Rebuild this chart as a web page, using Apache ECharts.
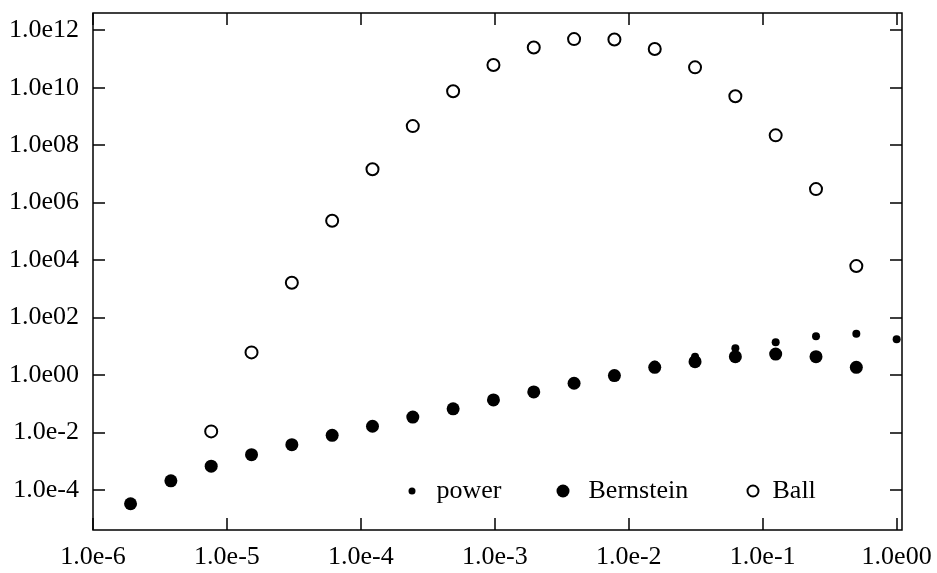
<!DOCTYPE html>
<html>
<head>
<meta charset="utf-8">
<script src="https://cdn.jsdelivr.net/npm/echarts@6/dist/echarts.min.js"></script>
<style>
  html, body { margin: 0; padding: 0; background: #fff; }
  #chart { width: 937px; height: 573px; }
</style>
</head>
<body>
<div id="chart"></div>
<script>
// x positions (2^-19 ... 2^0)
const xPower = [1.907e-6, 3.815e-6, 7.629e-6, 1.526e-5, 3.052e-5, 6.104e-5, 1.221e-4, 2.441e-4,
  4.883e-4, 9.766e-4, 1.953e-3, 3.906e-3, 7.813e-3, 1.563e-2, 3.125e-2, 6.25e-2, 0.125, 0.25, 0.5, 1];
const xBernstein = xPower.slice(0, 19);
const xBall = xPower.slice(2, 19);

const powerValues = [3.27e-5, 2.05e-4, 6.63e-4, 1.67e-3, 3.72e-3, 7.87e-3, 1.63e-2, 3.39e-2, 6.58e-2,
  0.135, 0.255, 0.512, 0.946, 2.3, 4.3, 8.4, 13.8, 22.3, 27.0, 17.6];
const bernsteinValues = [3.27e-5, 2.05e-4, 6.63e-4, 1.67e-3, 3.72e-3, 7.87e-3, 1.63e-2, 3.39e-2, 6.58e-2,
  0.135, 0.255, 0.512, 0.946, 1.83, 2.89, 4.31, 5.30, 4.31, 1.83];
const ballValues = [1.08e-2, 6.07, 1.62e3, 2.34e5, 1.45e7, 4.59e8, 7.5e9, 6.17e10, 2.51e11, 4.91e11,
  4.76e11, 2.21e11, 5.1e10, 5.04e9, 2.19e8, 2.94e6, 6.15e3];

// tick exponents and labels
const xTickExps = [-6, -5, -4, -3, -2, -1, 0];
const xTickLabels = ['1.0e-6', '1.0e-5', '1.0e-4', '1.0e-3', '1.0e-2', '1.0e-1', '1.0e00'];
const yTickExps = [-4, -2, 0, 2, 4, 6, 8, 10, 12];
const yTickLabels = ['1.0e-4', '1.0e-2', '1.0e00', '1.0e02', '1.0e04', '1.0e06', '1.0e08', '1.0e10', '1.0e12'];

const xMin = -6, xMax = 0.04, yMin = -5.4, yMax = 12.6;

function pairs(xs, ys) {
  return ys.map((v, i) => [Math.log10(xs[i]), Math.log10(v)]);
}
function labelFor(exps, labels) {
  return function (v) {
    const i = exps.findIndex(e => Math.abs(e - v) < 1e-6);
    return i >= 0 ? labels[i] : '';
  };
}

const FONT = 'Liberation Serif';
const tickStyle = { show: true, inside: true, length: 12, lineStyle: { color: '#000', width: 1.5 } };
const noLine = { show: false, onZero: false };

const chart = echarts.init(document.getElementById('chart'), null, { renderer: 'canvas' });
chart.setOption({
  backgroundColor: '#fff',
  animation: false,
  textStyle: { fontFamily: FONT, color: '#000' },
  grid: { left: 93, right: 35, top: 13, bottom: 43, show: true, borderColor: '#000', borderWidth: 1.5, backgroundColor: 'transparent' },
  xAxis: [
    {
      type: 'value', min: xMin, max: xMax, position: 'bottom',
      axisLine: noLine,
      splitLine: { show: false },
      axisTick: Object.assign({ customValues: xTickExps }, tickStyle),
      axisLabel: { customValues: xTickExps, formatter: labelFor(xTickExps, xTickLabels), fontFamily: FONT, fontSize: 26, color: '#000', margin: 14 }
    },
    {
      type: 'value', min: xMin, max: xMax, position: 'top',
      axisLine: noLine,
      splitLine: { show: false },
      axisTick: Object.assign({ customValues: xTickExps }, tickStyle),
      axisLabel: { show: false }
    }
  ],
  yAxis: [
    {
      type: 'value', min: yMin, max: yMax, position: 'left',
      axisLine: noLine,
      splitLine: { show: false },
      axisTick: Object.assign({ customValues: yTickExps }, tickStyle),
      axisLabel: { customValues: yTickExps, formatter: labelFor(yTickExps, yTickLabels), fontFamily: FONT, fontSize: 26, color: '#000', margin: 14 }
    },
    {
      type: 'value', min: yMin, max: yMax, position: 'right',
      axisLine: noLine,
      splitLine: { show: false },
      axisTick: Object.assign({ customValues: yTickExps }, tickStyle),
      axisLabel: { show: false }
    }
  ],
  legend: [
    { data: ['power'], left: 408.5, top: 478, padding: 0, itemWidth: 7, itemHeight: 7, icon: 'circle',
      textStyle: { fontFamily: FONT, fontSize: 26, color: '#000', padding: [0, 0, 0, 16] } },
    { data: ['Bernstein'], left: 556.5, top: 478, padding: 0, itemWidth: 13, itemHeight: 13, icon: 'circle',
      textStyle: { fontFamily: FONT, fontSize: 26, color: '#000', padding: [0, 0, 0, 14] } },
    { data: ['Ball'], left: 746.5, top: 478, padding: 0, itemWidth: 11, itemHeight: 11, icon: 'circle',
      textStyle: { fontFamily: FONT, fontSize: 26, color: '#000', padding: [0, 0, 0, 9] } }
  ],
  series: [
    {
      name: 'Ball', type: 'scatter', symbol: 'circle', symbolSize: 12,
      itemStyle: { color: '#fff', borderColor: '#000', borderWidth: 2, opacity: 1 },
      data: pairs(xBall, ballValues), z: 3
    },
    {
      name: 'Bernstein', type: 'scatter', symbol: 'circle', symbolSize: 13,
      itemStyle: { color: '#000', opacity: 1 },
      data: pairs(xBernstein, bernsteinValues), z: 3
    },
    {
      name: 'power', type: 'scatter', symbol: 'circle', symbolSize: 8,
      itemStyle: { color: '#000', opacity: 1 },
      data: pairs(xPower, powerValues), z: 4
    }
  ]
});
</script>
</body>
</html>
